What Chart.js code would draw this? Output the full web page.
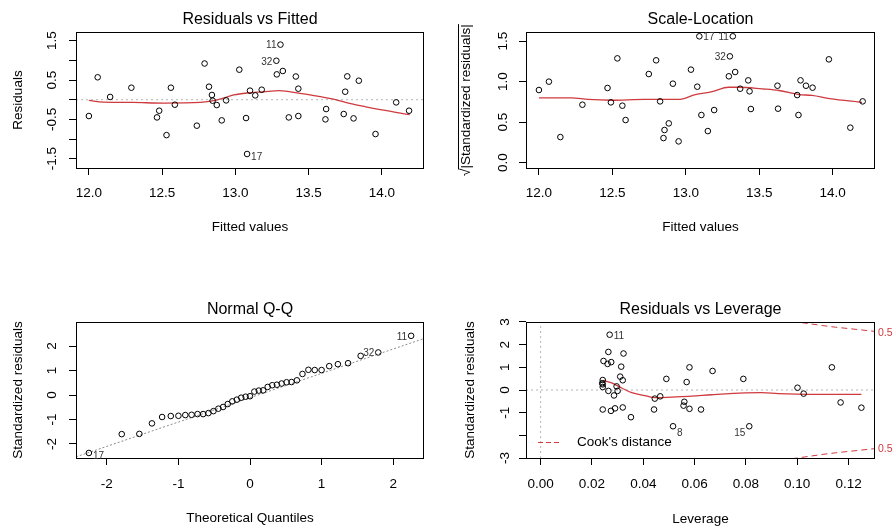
<!DOCTYPE html>
<html><head><meta charset="utf-8">
<script src="https://cdn.jsdelivr.net/npm/chart.js@4.4.1/dist/chart.umd.min.js"></script>
<style>
html,body{margin:0;padding:0;background:#fff;}
#wrap{position:relative;width:895px;height:527px;overflow:hidden;background:#fff;}
canvas{position:absolute;left:0;top:0;}
</style></head><body>
<div id="wrap">
<canvas id="c1" width="895" height="527"></canvas>
<canvas id="c2" width="895" height="527"></canvas>
<canvas id="c3" width="895" height="527"></canvas>
<canvas id="c4" width="895" height="527"></canvas>
</div>
<script>
// ---------- DATA ----------
// Panel 1: Residuals vs Fitted
const rvfFitted = [12.0,12.06,12.145,12.29,12.465,12.48,12.53,12.56,12.587,12.737,12.79,12.82,12.84,12.845,12.873,12.907,12.937,13.027,13.073,13.08,13.1,13.136,13.18,13.28,13.283,13.308,13.324,13.365,13.413,13.43,13.43,13.615,13.62,13.74,13.75,13.764,13.807,13.843,13.957,14.098,14.186];
const rvfResid = [-0.415,0.57,0.07,0.305,-0.45,-0.28,-0.9,0.305,-0.127,-0.66,0.92,0.33,0.12,-0.025,-0.136,-0.525,-0.017,0.763,-0.466,-1.38,0.23,0.11,0.254,0.99,0.644,1.40,0.73,-0.45,0.59,0.28,-0.415,-0.5,-0.237,-0.364,0.203,0.593,-0.475,0.483,-0.873,-0.068,-0.28];
const rvfSmoothX = [12.0,12.1,12.3,12.51,12.76,12.87,12.99,13.08,13.19,13.3,13.44,13.58,13.67,13.78,13.89,14.0,14.19];
const rvfSmoothY = [-0.017,-0.06,-0.07,-0.085,-0.07,-0.01,0.12,0.17,0.20,0.23,0.16,0.076,0.017,-0.093,-0.18,-0.26,-0.38];
const rvfIds = [{i:25,text:'11'},{i:23,text:'32'},{i:19,text:'17'}];

// Panel 2: Scale-Location
const slFitted = [12.0,12.068,12.146,12.296,12.467,12.49,12.534,12.568,12.59,12.748,12.798,12.825,12.848,12.855,12.884,12.912,12.951,13.035,13.078,13.092,13.106,13.15,13.193,13.293,13.3,13.32,13.336,13.37,13.425,13.434,13.443,13.624,13.628,13.758,13.767,13.781,13.818,13.863,13.974,14.12,14.204];
const slSqrtStd = [0.896,0.999,0.316,0.715,0.921,0.744,1.286,0.703,0.526,1.093,1.262,0.756,0.304,0.403,0.485,0.974,0.263,1.147,0.937,1.558,0.588,0.39,0.649,1.065,1.311,1.558,1.118,0.912,1.015,0.88,0.662,0.949,0.666,0.834,0.588,1.015,0.949,0.925,1.274,0.432,0.756];
const slSmoothX = [12.0,12.22,12.335,12.495,12.72,12.95,13.065,13.18,13.29,13.36,13.52,13.635,13.77,13.86,13.98,14.2];
const slSmoothY = [0.80,0.80,0.78,0.77,0.78,0.78,0.84,0.875,0.93,0.93,0.91,0.89,0.84,0.83,0.79,0.745];
const slIds = [{i:19,text:'17'},{i:24,text:'32'},{i:25,text:'11'}];

// Panel 3: Normal Q-Q
const qqTheo = [-2.251,-1.792,-1.546,-1.370,-1.228,-1.107,-1.000,-0.904,-0.816,-0.733,-0.655,-0.581,-0.511,-0.442,-0.376,-0.311,-0.247,-0.184,-0.123,-0.061,0,0.061,0.123,0.184,0.247,0.311,0.376,0.442,0.511,0.581,0.655,0.733,0.816,0.904,1.000,1.107,1.228,1.370,1.546,1.792,2.251];
const qqStd = [-2.37,-1.60,-1.59,-1.16,-0.90,-0.86,-0.85,-0.82,-0.81,-0.78,-0.78,-0.74,-0.66,-0.56,-0.49,-0.37,-0.26,-0.19,-0.11,-0.07,-0.05,0.14,0.18,0.19,0.33,0.40,0.42,0.47,0.52,0.53,0.60,0.86,1.03,1.02,1.02,1.18,1.26,1.30,1.60,1.74,2.42];
const qqLineIntercept = -0.11;
const qqLineSlope = 0.995;
const qqIds = [{i:0,text:'17'},{i:39,text:'32'},{i:40,text:'11'}];

// Panel 4: Residuals vs Leverage
const levH = [0.0269,0.0264,0.0245,0.0261,0.0275,0.0323,0.0314,0.0310,0.0320,0.0242,0.0240,0.0242,0.0242,0.0264,0.0286,0.0296,0.0300,0.0242,0.0274,0.0290,0.0320,0.0352,0.0442,0.0445,0.0466,0.0490,0.0516,0.0560,0.0557,0.0569,0.0580,0.0580,0.0625,0.0670,0.0790,0.0813,0.1001,0.1025,0.1135,0.1169,0.1250];
const levStd = [2.44,1.68,1.28,1.15,1.23,1.61,1.03,0.59,0.43,0.44,0.30,0.25,0.13,-0.04,-0.24,0.16,-0.04,-0.86,-0.92,-0.81,-0.77,-1.20,-0.86,-0.38,-0.28,0.49,-1.60,-0.52,-0.69,0.35,1.00,-0.83,-0.86,0.84,0.49,-1.60,0.10,-0.16,1.00,-0.55,-0.78];
const levSmoothX = [0.0242,0.0277,0.0316,0.0355,0.0406,0.0445,0.051,0.0588,0.0666,0.0796,0.0861,0.0926,0.1056,0.125];
const levSmoothY = [0.43,0.31,0.09,-0.12,-0.25,-0.34,-0.31,-0.27,-0.21,-0.13,-0.12,-0.16,-0.19,-0.19];
const cookX = [0.094,0.097,0.100,0.105,0.110,0.115,0.120,0.125,0.1303];
const cookUpperY = [3.10,3.05,3.00,2.92,2.84,2.77,2.71,2.65,2.586];
const cookLowerY = [-3.10,-3.05,-3.00,-2.92,-2.84,-2.77,-2.71,-2.65,-2.586];
const cookLevel = '0.5';
const levIds = [{i:0,text:'11'},{i:26,text:'8'},{i:35,text:'15'}];

// Axis ticks
const fitTicks = [12.0,12.5,13.0,13.5,14.0];
const fitTickLabels = ['12.0','12.5','13.0','13.5','14.0'];
const rvfYTicks = [-1.5,-1,-0.5,0,0.5,1,1.5];
const rvfYTickLabels = ['-1.5','','-0.5','','0.5','','1.5'];
const slYTicks = [0,0.5,1,1.5];
const slYTickLabels = ['0.0','0.5','1.0','1.5'];
const qqXTicks = [-2,-1,0,1,2];
const qqXTickLabels = ['-2','-1','0','1','2'];
const qqYTicks = [-2,-1,0,1,2];
const qqYTickLabels = ['-2','-1','0','1','2'];
const levXTicks = [0,0.02,0.04,0.06,0.08,0.10,0.12];
const levXTickLabels = ['0.00','0.02','0.04','0.06','0.08','0.10','0.12'];
const levYTicks = [-3,-2,-1,0,1,2,3];
const levYTickLabels = ['-3','','-1','0','1','2','3'];

// ---------- STYLE / LAYOUT ----------
const FONT = '"Liberation Sans", Arial, Helvetica, sans-serif';
Chart.defaults.font.family = FONT;
Chart.defaults.color = '#000';
const RED = '#cf3a3f';
const W = 895, H = 527, TL = 7;

function pts(xs, ys){ return xs.map((x,i)=>({x:x, y:ys[i]})); }
function measureWidest(labels, size){
  const c = document.createElement('canvas').getContext('2d');
  c.font = 'normal ' + size + 'px ' + FONT;
  return Math.max(...labels.map(l=>c.measureText(l).width));
}
const pointDs = (data)=>({data:data, showLine:false, pointStyle:'circle', pointRadius:2.8,
  pointBorderWidth:1, pointBorderColor:'#000', pointBackgroundColor:'rgba(0,0,0,0)'});
const smoothDs = (data)=>({data:data, showLine:true, borderColor:RED, borderWidth:1.3,
  pointRadius:0, cubicInterpolationMode:'monotone', fill:false});
const refDs = (data, color, dash)=>({data:data, showLine:true, borderColor:color, borderWidth:1,
  borderDash:dash, pointRadius:0, fill:false});

const rPlot = {
  id:'rPlot',
  afterDatasetsDraw(chart, args, opts){
    const {ctx, chartArea:a, scales:{x, y}} = chart;
    ctx.save();
    ctx.strokeStyle = '#000'; ctx.lineWidth = 1; ctx.setLineDash([]);
    ctx.strokeRect(Math.round(a.left)+0.5, Math.round(a.top)+0.5, Math.round(a.right-a.left)-1, Math.round(a.bottom-a.top));
    const mid = (x.min + x.max)/2;
    (opts.ids || []).forEach(l=>{
      const vx = opts.xs[l.i], vy = opts.ys[l.i];
      const px = x.getPixelForValue(vx), py = y.getPixelForValue(vy);
      const left = vx > mid;
      ctx.font = '10px ' + FONT; ctx.fillStyle = '#333'; ctx.textBaseline = 'middle';
      ctx.textAlign = left ? 'right' : 'left';
      const dy = (opts.idDy && opts.idDy[l.text] !== undefined) ? opts.idDy[l.text] : 1;
      ctx.fillText(l.text, px + (left ? -4 : 4), py + dy);
    });
    if (opts.extra) opts.extra(chart);
    ctx.restore();
  }
};

function makePanel(id, p){
  const b = p.box;
  const yPad = p.yLabelOff - TL - measureWidest(p.yLabels, 13.5)/2;
  const gridOpt = {display:true, drawOnChartArea:false, drawTicks:true, tickLength:TL, color:'#000', lineWidth:1};
  return new Chart(document.getElementById(id), {
    type:'scatter',
    data:{datasets:p.datasets},
    options:{
      responsive:false, animation:false, events:[],
      layout:{padding:{left:0, top:0, right:W-b.r, bottom:0}},
      plugins:{
        legend:{display:false}, tooltip:{enabled:false},
        title:{display:true, text:p.title, fullSize:false, color:'#000',
          font:{size:16, weight:'normal'},
          padding:{top:p.titleY-9.6, bottom:b.t-p.titleY-9.6}},
        rPlot:{ids:p.ids, xs:p.idX, ys:p.idY, idDy:p.idDy, extra:p.extra}
      },
      scales:{
        x:{type:'linear', position:'bottom', min:p.xRange[0], max:p.xRange[1],
          afterFit:s=>{ s.height = H - b.b; },
          afterBuildTicks:s=>{ s.ticks = p.xTicks.map(v=>({value:v})); },
          grid:gridOpt, border:{display:false},
          ticks:{autoSkip:false, maxRotation:0, minRotation:0, padding:p.xPad,
            font:{size:13.5}, color:'#000', callback:(v,i)=>p.xLabels[i]},
          title:{display:true, text:p.xTitle, color:'#000', font:{size:13.5},
            padding:{top:0, bottom:Math.max(0, H - p.xTitleY - 8.1)}}},
        y:{type:'linear', position:'left', min:p.yRange[0], max:p.yRange[1],
          afterFit:s=>{ s.width = b.l; },
          afterBuildTicks:s=>{ s.ticks = p.yTicks.map(v=>({value:v})); },
          grid:gridOpt, border:{display:false},
          ticks:{autoSkip:false, minRotation:90, maxRotation:90, crossAlign:'center', padding:yPad,
            font:{size:13.5}, color:'#000', callback:(v,i)=>p.yLabels[i]},
          title:{display:true, text:p.yTitle, color:'#000', font:{size:13.5},
            padding:{top:p.yTitleX - 8.1, bottom:0}}}
      }
    },
    plugins:[rPlot]
  });
}

const fitRange = [11.912, 14.288];
const rvfYRange = [-1.736, 1.721];
const slYRange = [-0.065, 1.611];
const qqXRange = [-2.431, 2.431];
const qqYRange = [-2.576, 2.985];
const levXRange = [-0.0057, 0.1303];
const levYRange = [-3, 3];

makePanel('c1', {
  box:{l:76, t:32, r:424, b:168},
  title:'Residuals vs Fitted', titleY:19.7,
  xTitle:'Fitted values', xTitleY:227, yTitle:'Residuals', yTitleX:18,
  xRange:fitRange, yRange:rvfYRange, xTicks:fitTicks, xLabels:fitTickLabels,
  yTicks:rvfYTicks, yLabels:rvfYTickLabels, xPad:10, yLabelOff:24,
  ids:rvfIds, idX:rvfFitted, idY:rvfResid, idDy:{'17':3},
  datasets:[
    pointDs(pts(rvfFitted, rvfResid)),
    smoothDs(pts(rvfSmoothX, rvfSmoothY)),
    refDs([{x:fitRange[0], y:0},{x:fitRange[1], y:0}], '#b4b4b4', [2,3])
  ]
});

makePanel('c2', {
  box:{l:526, t:32, r:875, b:168},
  title:'Scale-Location', titleY:19.7,
  xTitle:'Fitted values', xTitleY:227.5, yTitle:'\u221A|Standardized residuals|', yTitleX:466,
  xRange:fitRange, yRange:slYRange, xTicks:fitTicks, xLabels:fitTickLabels,
  yTicks:slYTicks, yLabels:slYTickLabels, xPad:10, yLabelOff:23,
  ids:slIds, idX:slFitted, idY:slSqrtStd, idDy:{},
  extra(chart){
    const {ctx, chartArea:a} = chart;
    ctx.font = 'normal 13.5px ' + FONT;
    const txt = '\u221A|Standardized residuals|';
    const w = ctx.measureText(txt).width, w0 = ctx.measureText('\u221A').width;
    const cy = (a.top + a.bottom)/2;
    ctx.strokeStyle = '#000'; ctx.lineWidth = 1;
    ctx.beginPath();
    ctx.moveTo(466 - 7.5, cy + w/2 - w0 + 1);
    ctx.lineTo(466 - 7.5, cy - w/2);
    ctx.stroke();
  },
  datasets:[
    pointDs(pts(slFitted, slSqrtStd)),
    smoothDs(pts(slSmoothX, slSmoothY))
  ]
});

makePanel('c3', {
  box:{l:76, t:322, r:424, b:458},
  title:'Normal Q-Q', titleY:309.6,
  xTitle:'Theoretical Quantiles', xTitleY:518.5, yTitle:'Standardized residuals', yTitleX:18,
  xRange:qqXRange, yRange:qqYRange, xTicks:qqXTicks, xLabels:qqXTickLabels,
  yTicks:qqYTicks, yLabels:qqYTickLabels, xPad:11, yLabelOff:24,
  ids:qqIds, idX:qqTheo, idY:qqStd, idDy:{'17':3},
  datasets:[
    pointDs(pts(qqTheo, qqStd)),
    refDs([{x:qqXRange[0], y:qqLineIntercept + qqLineSlope*qqXRange[0]},
           {x:qqXRange[1], y:qqLineIntercept + qqLineSlope*qqXRange[1]}], '#8a8a8a', [2,2])
  ]
});

makePanel('c4', {
  box:{l:526, t:322, r:875, b:458},
  title:'Residuals vs Leverage', titleY:309.6,
  xTitle:'Leverage', xTitleY:519, yTitle:'Standardized residuals', yTitleX:470,
  xRange:levXRange, yRange:levYRange, xTicks:levXTicks, xLabels:levXTickLabels,
  yTicks:levYTicks, yLabels:levYTickLabels, xPad:11, yLabelOff:21,
  ids:levIds, idX:levH, idY:levStd, idDy:{'11':2, '8':6.5, '15':6.5},
  extra(chart){
    const {ctx, chartArea:a, scales:{y}} = chart;
    ctx.font = '10.5px ' + FONT; ctx.fillStyle = RED; ctx.textAlign = 'left'; ctx.textBaseline = 'middle';
    ctx.fillText(cookLevel, a.right + 3, y.getPixelForValue(cookUpperY[cookUpperY.length-1]) + 1.5);
    ctx.fillText(cookLevel, a.right + 3, y.getPixelForValue(cookLowerY[cookLowerY.length-1]));
    const ly = a.bottom - 15.5;
    ctx.strokeStyle = RED; ctx.lineWidth = 1.2; ctx.setLineDash([5,3]);
    ctx.beginPath(); ctx.moveTo(a.left + 12, ly); ctx.lineTo(a.left + 35, ly); ctx.stroke();
    ctx.setLineDash([]);
    ctx.fillStyle = '#000'; ctx.font = '13.5px ' + FONT;
    ctx.fillText("Cook's distance", a.left + 51, ly);
  },
  datasets:[
    pointDs(pts(levH, levStd)),
    smoothDs(pts(levSmoothX, levSmoothY)),
    refDs(pts(cookX, cookUpperY), RED, [6,4]),
    refDs(pts(cookX, cookLowerY), RED, [6,4]),
    refDs([{x:levXRange[0], y:0},{x:levXRange[1], y:0}], '#b4b4b4', [2,3]),
    refDs([{x:0, y:levYRange[0]},{x:0, y:levYRange[1]}], '#b4b4b4', [2,3])
  ]
});
</script>
</body></html>
